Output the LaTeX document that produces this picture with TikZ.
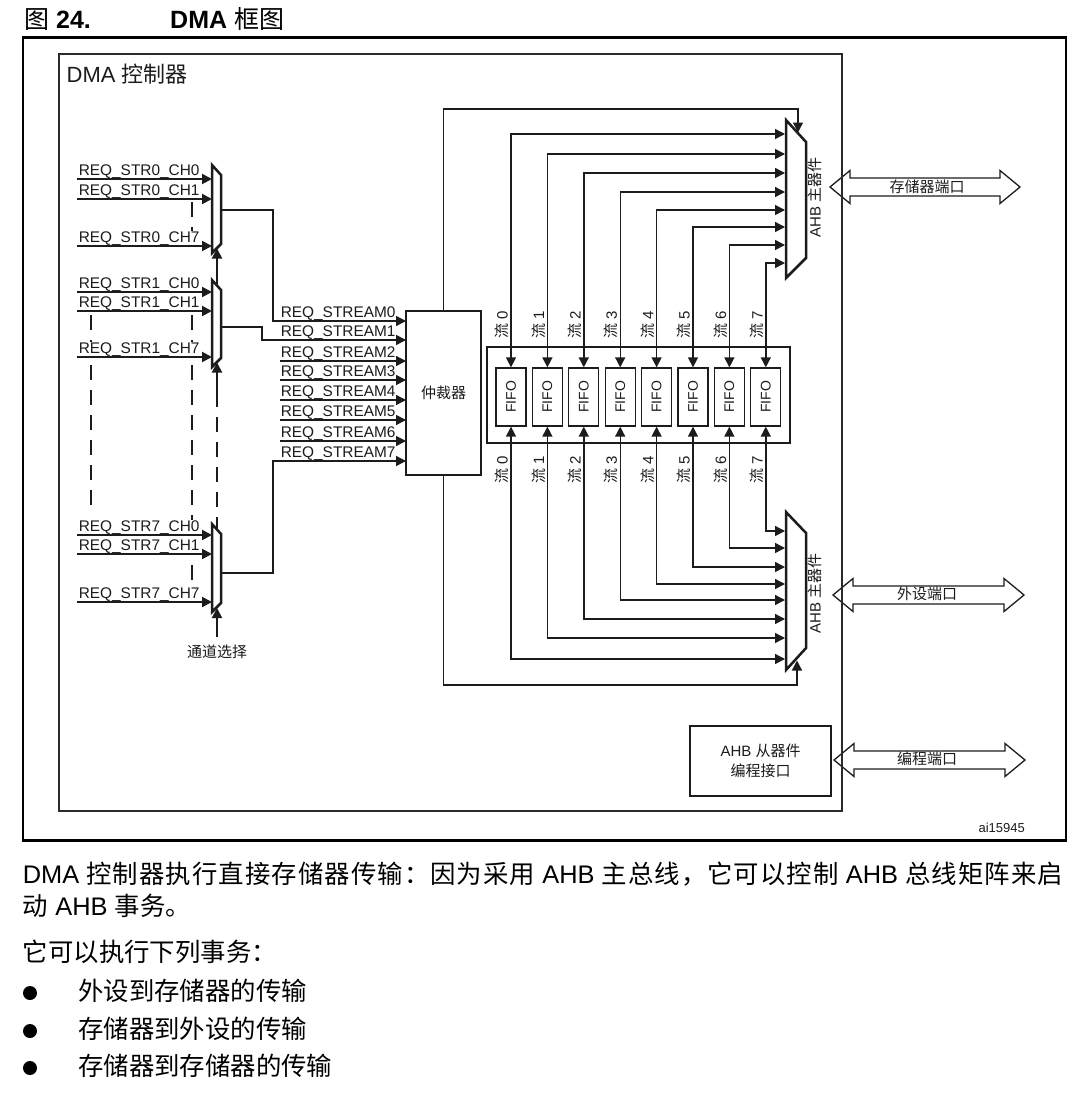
\documentclass[tikz,border=0pt]{standalone}
\usepackage{fontspec}
\usepackage{graphicx}
\setmainfont{Liberation Sans}
\newfontfamily\cjf{Noto Sans CJK SC}
\newcommand\zh[1]{{\cjf #1}}
\newcommand\gl{\hskip 0pt plus 1fil\relax}
\usetikzlibrary{arrows.meta,calc}
\definecolor{ink}{HTML}{1C1C1C}
\definecolor{frm}{HTML}{2A2A2A}
\tikzset{
 wire/.style={draw=ink, line width=1.4pt},
 thickw/.style={draw=ink, line width=2pt},
 arr/.style={-{Triangle[length=10pt,width=10pt]}},
 biarr/.style={{Triangle[length=10pt,width=10pt]}-{Triangle[length=10pt,width=10pt]}},
 muxbody/.style={draw=ink, line width=2.5pt, fill=white, line join=miter},
 dsh/.style={draw=ink, line width=1.6pt, dash pattern=on 15pt off 10pt},
 lbl/.style={anchor=base west, inner sep=0.6pt, fill=white, text=ink, font=\fontsize{15.4}{18}\selectfont},
 sm/.style={text=ink, font=\fontsize{15}{18}\selectfont, inner sep=0pt},
 fifo/.style={draw=ink, line width=1.3pt, fill=white, minimum width=30pt, minimum height=58pt, inner sep=0pt, font=\fontsize{14}{16}\selectfont, text=ink},
 big/.style={draw=ink, line width=1.3pt, fill=white, line join=miter},
 para/.style={anchor=base west, inner sep=0pt, font=\fontsize{25.4}{30}\selectfont, text=black},
}
\newcommand\bigarr[3]{\draw[big] (#1,#3) -- (#1+20,#3-16.5) -- (#1+20,#3-9) -- (#2-20,#3-9) -- (#2-20,#3-16.5) -- (#2,#3) -- (#2-20,#3+16.5) -- (#2-20,#3+9) -- (#1+20,#3+9) -- (#1+20,#3+16.5) -- cycle;}
\begin{document}
\begin{tikzpicture}[x=1pt,y=-1pt]
\useasboundingbox (0,0) rectangle (1078,1109);
\fill[white] (0,0) rectangle (1078,1109);

% title
\node[para, font=\fontsize{25}{30}\selectfont] (ttl1) at (24,28) {\zh{图} \textbf{24.}};
\node[para, font=\fontsize{25}{30}\selectfont] (ttl2) at (170,28) {\textbf{DMA} \zh{框图}};

% big port arrows
\bigarr{830}{1020}{187}
\bigarr{833}{1024}{595}
\bigarr{834}{1025}{760}
\node[sm] (memp) at (927,187) {\zh{存储器端口}};
\node[sm] (perp) at (927,594) {\zh{外设端口}};
\node[sm] (prgp) at (927,759) {\zh{编程端口}};

% frames
\draw[line width=2.2pt, black] (22.7,37.5) rectangle (1066,840.5);
\draw[line width=2pt, frm] (59,54) rectangle (842,811);
\node[anchor=base west, inner sep=0pt, text=ink, font=\fontsize{22}{26}\selectfont] (dmac) at (66.5,82) {DMA \zh{控制器}};

% dashed lines
\coordinate (da1) at (192,202); \coordinate (db1) at (192,240);
\coordinate (da2) at (192,315); \coordinate (db2) at (192,592);
\coordinate (da3) at (91,315);  \coordinate (db3) at (91,513);
\coordinate (da4) at (217,392); \coordinate (db4) at (217,529);
\foreach \d in {1,2,3,4} \draw[dsh] (da\d) -- (db\d);

% left multiplexers
\foreach \m/\T/\B in {0/165/253, 1/280/367, 7/524/612}
  \draw[muxbody] (212,\T) -- (221,\T+10) -- (221,\B-9) -- (212,\B) -- cycle;

\foreach \m/\a/\b/\c in {0/179/199/246, 1/292/311/357, 7/535/554/602} {
  \node[lbl] (la\m) at (78,\a-4) {REQ\_STR\m\_CH0};
  \node[lbl] (lb\m) at (78,\b-4) {REQ\_STR\m\_CH1};
  \node[lbl] (lc\m) at (78,\c-4) {REQ\_STR\m\_CH7};
  \coordinate (sa\m) at (77,\a); \coordinate (ia\m) at (212,\a);
  \coordinate (sb\m) at (77,\b); \coordinate (ib\m) at (212,\b);
  \coordinate (sc\m) at (77,\c); \coordinate (ic\m) at (212,\c);
  \draw[thickw,arr] (sa\m) -- (ia\m);
  \draw[thickw,arr] (sb\m) -- (ib\m);
  \draw[thickw,arr] (sc\m) -- (ic\m);
}

% channel select
\coordinate (sel) at (217,637); \coordinate (selt7) at (217,608);
\coordinate (s1a) at (217,285); \coordinate (s1b) at (217,248.5);
\coordinate (s2a) at (217,392); \coordinate (s2b) at (217,362.5);
\draw[thickw,arr] (sel) -- (selt7);
\draw[thickw,arr] (s1a) -- (s1b);
\draw[thickw,arr] (s2a) -- (s2b);
\node[sm] (seltxt) at (217,652) {\zh{通道选择}};

% arbiter
\node[draw=ink, line width=2pt, fill=white, minimum width=75pt, minimum height=164pt, inner sep=0pt, font=\fontsize{15}{18}\selectfont, text=ink] (arb) at (443.5,393) {\zh{仲裁器}};

\foreach \k/\y in {0/321,1/340,2/361,3/380,4/400,5/420,6/441,7/461} {
  \coordinate (rq\k) at (406,\y);
  \node[lbl, fill=none] (rl\k) at (280,\y-4) {REQ\_STREAM\k};
}
\coordinate (mo0) at (221,210);
\coordinate (mo1) at (221,327);
\coordinate (mo7) at (221,573);
\draw[wire,arr] (mo0) -- (273,210) -- (273,321) -- (rq0);
\draw[wire,arr] (mo1) -- (262,327) -- (262,340) -- (rq1);
\draw[wire,arr] (mo7) -- (273,573) -- (273,461) -- (rq7);
\foreach \k/\y in {2/361,3/380,4/400,5/420,6/441} {
  \coordinate (rs\k) at (280,\y);
  \draw[wire,arr] (rs\k) -- (rq\k);
}

% AHB master multiplexers
\draw[muxbody] (786,120) -- (806,142) -- (806,258) -- (786,278) -- cycle;
\draw[muxbody] (786,512) -- (806,533) -- (806,648) -- (786,670) -- cycle;
\node[sm, rotate=90] (tml) at (815,197) {AHB \zh{主器件}};
\node[sm, rotate=90] (bml) at (815,593) {AHB \zh{主器件}};

\coordinate (tcorner) at (798,109); \coordinate (ttip) at (798,132.5);
\coordinate (bcorner) at (797,685); \coordinate (btip) at (797,660.5);
\draw[wire,arr] (arb.north) |- (tcorner) -- (ttip);
\draw[wire,arr] (arb.south) |- (bcorner) -- (btip);

% FIFO block
\node[draw=ink, line width=2pt, minimum width=303pt, minimum height=96pt] (fb) at (638.5,395) {};
\foreach \i/\ty/\by in {0/134/659, 1/154/638, 2/173/619, 3/192/600, 4/210/584, 5/227/567, 6/245/548, 7/263/531} {
  \pgfmathsetmacro\fx{511+36.4*\i}
  \node[fifo] (f\i) at (\fx,397) {\rotatebox{90}{FIFO}};
  \coordinate (ti\i) at (785,\ty);
  \coordinate (bi\i) at (785,\by);
  \draw[wire,biarr] (ti\i) -| (f\i.north);
  \draw[wire,biarr] (bi\i) -| (f\i.south);
  \node[sm, rotate=90] (st\i) at (\fx-9,325) {\zh{流} \i};
  \node[sm, rotate=90] (sb\i) at (\fx-9,470) {\zh{流} \i};
}

% AHB slave
\node[draw=ink, line width=2pt, minimum width=141pt, minimum height=70pt, align=center, font=\fontsize{15}{20}\selectfont, text=ink] (slave) at (760.5,761) {AHB \zh{从器件}\\\zh{编程接口}};

\node[anchor=base east, inner sep=0pt, font=\fontsize{13}{15}\selectfont, text=ink] (ai) at (1025,832) {ai15945};

% paragraph
\node[para] (p1) at (22.7,883) {\makebox[1040pt][s]{DMA \zh{控\gl 制\gl 器\gl 执\gl 行\gl 直\gl 接\gl 存\gl 储\gl 器\gl 传\gl 输\gl ：\gl 因\gl 为\gl 采\gl 用} AHB \zh{主\gl 总\gl 线\gl ，\gl 它\gl 可\gl 以\gl 控\gl 制} AHB \zh{总\gl 线\gl 矩\gl 阵\gl 来\gl 启}}};
\node[para] (p2) at (22.7,915) {\zh{动} AHB \zh{事务。}};
\node[para] (p3) at (22.7,961) {\zh{它可以执行下列事务：}};
\foreach \n/\y/\t in {1/1000/外设到存储器的传输, 2/1038/存储器到外设的传输, 3/1075/存储器到存储器的传输} {
  \fill (30,\y-7) circle (7);
  \node[para] (bl\n) at (78,\y) {\zh{\t}};
}
\end{tikzpicture}
\end{document}
